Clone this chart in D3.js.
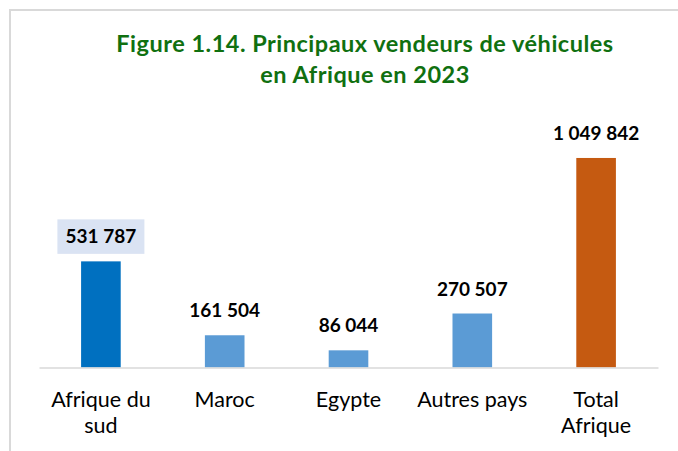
<!DOCTYPE html>
<html>
<head>
<meta charset="utf-8">
<script src="https://cdn.jsdelivr.net/npm/d3@7"></script>
<style>
  html, body { margin: 0; padding: 0; background: #fff; }
  svg { display: block; }
  text { font-family: Lato, "Open Sans", sans-serif; }
</style>
</head>
<body>
<svg id="chart" width="678" height="451"></svg>
<script>
const categories = ["Afrique du sud", "Maroc", "Egypte", "Autres pays", "Total Afrique"];
const tickLines = [["Afrique du", "sud"], ["Maroc"], ["Egypte"], ["Autres pays"], ["Total", "Afrique"]];
const values = [531787, 161504, 86044, 270507, 1049842];
const valueLabels = ["531 787", "161 504", "86 044", "270 507", "1 049 842"];
const barColors = ["#0070c0", "#5b9bd5", "#5b9bd5", "#5b9bd5", "#c55a11"];
const titleLines = ["Figure 1.14. Principaux vendeurs de véhicules", "en Afrique en 2023"];

const svg = d3.select("#chart");

// frame
svg.append("path")
  .attr("d", "M10,451 V10 H678")
  .attr("fill", "none")
  .attr("stroke", "#d9d9d9")
  .attr("stroke-width", 2);

const x = d3.scaleBand().domain(categories).range([39, 658]).paddingInner(0.68).paddingOuter(0.34);
const y = d3.scaleLinear().domain([0, 1200000]).range([367.5, 128]);

// title
svg.append("g").selectAll("text").data(titleLines).join("text")
  .attr("x", 365)
  .attr("y", (d, i) => 52 + i * 31)
  .attr("text-anchor", "middle")
  .attr("font-weight", "bold")
  .attr("font-size", 23.5)
  .attr("letter-spacing", 0.5)
  .attr("fill", "#107010")
  .text(d => d);

// bars
svg.append("g").selectAll("rect").data(values).join("rect")
  .attr("x", (d, i) => x(categories[i]))
  .attr("width", x.bandwidth())
  .attr("y", d => y(d))
  .attr("height", d => y(0) - y(d))
  .attr("fill", (d, i) => barColors[i]);

// axis
const axis = svg.append("g")
  .attr("transform", `translate(0,${y(0)})`)
  .call(d3.axisBottom(x).tickSize(0).tickFormat(""));
axis.select(".domain").attr("stroke", "#d9d9d9").attr("stroke-width", 1.5);
axis.selectAll(".tick text").remove();
axis.selectAll(".tick").each(function(d, i) {
  const t = d3.select(this).append("text")
    .attr("fill", "#000")
    .attr("font-size", 21.5)
    .attr("text-anchor", "middle");
  tickLines[i].forEach((line, j) => {
    t.append("tspan").attr("x", 0).attr("y", 39 + j * 26.5).text(line);
  });
});

// highlighted label box for first bar
const cx0 = x(categories[0]) + x.bandwidth() / 2;
svg.append("rect")
  .attr("x", cx0 - 43.5)
  .attr("y", y(values[0]) - 42)
  .attr("width", 87)
  .attr("height", 34.5)
  .attr("fill", "#dae3f3");

// value labels
svg.append("g").selectAll("text").data(values).join("text")
  .attr("x", (d, i) => x(categories[i]) + x.bandwidth() / 2)
  .attr("y", d => y(d) - 18)
  .attr("text-anchor", "middle")
  .attr("font-weight", "bold")
  .attr("font-size", 19)
  .attr("fill", "#000")
  .text((d, i) => valueLabels[i]);
</script>
</body>
</html>
